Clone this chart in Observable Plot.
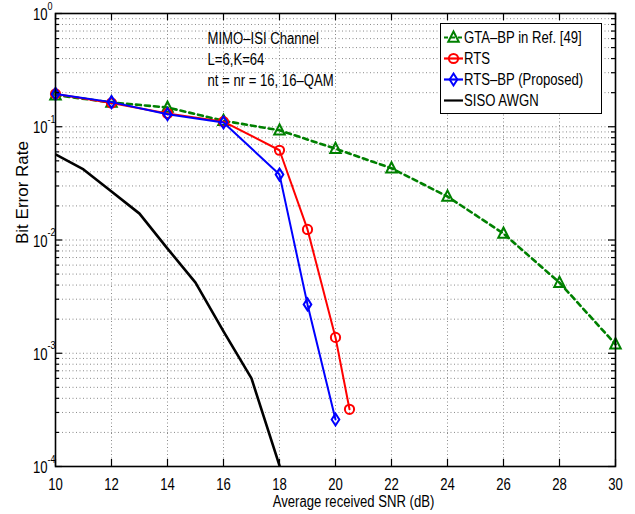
<!DOCTYPE html>
<html>
<head>
<meta charset="utf-8">
<script src="https://cdn.jsdelivr.net/npm/d3@7"></script>
<script src="https://cdn.jsdelivr.net/npm/@observablehq/plot@0.6"></script>
<style>
  body { margin: 0; background: #fff; }
  #wrap { position: relative; width: 635px; height: 514px; background: #fff; }
  #legend {
    position: absolute; left: 440px; top: 23px; width: 162px; height: 91px;
    box-sizing: border-box; border: 1.5px solid #000; background: #fff;
    font-family: "Liberation Sans", Arial, sans-serif;
    font-size: 16px; color: #000; padding-top: 3px;
  }
  .row { display: flex; align-items: center; height: 21px; white-space: nowrap; }
  .row svg { flex: none; margin-left: 2px; }
  .row span { display: inline-block; transform: scaleX(0.82); transform-origin: 0 50%; }
</style>
</head>
<body>
<div id="wrap"><div id="legend"></div></div>
<script>
// ---------------- data ----------------
const snrGTA   = [10, 12, 14, 16, 18, 20, 22, 24, 26, 28, 30];
const berGTA   = [0.19, 0.164, 0.148, 0.113, 0.093, 0.064, 0.043, 0.0242, 0.0114, 0.0042, 0.0012];
const snrRTS   = [10, 12, 14, 16, 18, 19, 20, 20.5];
const berRTS   = [0.195, 0.162, 0.131, 0.111, 0.062, 0.0124, 0.00138, 0.00032];
const snrRTSBP = [10, 12, 14, 16, 18, 19, 20];
const berRTSBP = [0.195, 0.165, 0.129, 0.109, 0.0378, 0.0027, 0.00026];
const snrSISO  = [10, 11, 12, 13, 14, 15, 16, 17, 18];
const berSISO  = [0.057, 0.042, 0.0268, 0.0171, 0.0084, 0.0042, 0.00156, 0.0006, 0.000102];

const seriesNames = ["GTA–BP in Ref. [49]", "RTS", "RTS–BP (Proposed)", "SISO AWGN"];
const xTicks = [10, 12, 14, 16, 18, 20, 22, 24, 26, 28, 30];
const yExponents = [0, -1, -2, -3, -4];
const annotationLines = ["MIMO–ISI Channel", "L=6,K=64", "nt = nr = 16, 16–QAM"];
const xLabel = "Average received SNR (dB)";
const yLabel = "Bit Error Rate";

// ---------------- styles ----------------
const GREEN = "#008000", RED = "#ff0000", BLUE = "#0000ff", BLACK = "#000000";
const FONT = '"Liberation Sans", Arial, sans-serif';
const SQUEEZE = 0.82;
const W = 635, H = 514, mL = 55, mR = 20, mT = 13, mB = 48;
const pw = W - mL - mR, ph = H - mT - mB;

const zip = (xs, ys) => xs.map((x, i) => ({x, y: ys[i]}));
const gta = zip(snrGTA, berGTA), rts = zip(snrRTS, berRTS), rtsbp = zip(snrRTSBP, berRTSBP), siso = zip(snrSISO, berSISO);

const yMajor = yExponents.map(e => 10 ** e);
const yMinor = [];
for (const e of yExponents) if (e < 0) for (let k = 2; k <= 9; k++) yMinor.push(k * 10 ** e);
const yGrid = [...yMajor.filter(v => v > 1e-4 && v < 1), ...yMinor];

// custom marker shapes (MATLAB-like)
const triSym = {draw(ctx, size) { const r = Math.sqrt(size / Math.PI);
  ctx.moveTo(0, -1.2 * r); ctx.lineTo(1.05 * r, 0.85 * r); ctx.lineTo(-1.05 * r, 0.85 * r); ctx.closePath(); }};
const diaSym = {draw(ctx, size) { const r = Math.sqrt(size / Math.PI);
  ctx.moveTo(0, -1.25 * r); ctx.lineTo(0.8 * r, 0); ctx.lineTo(0, 1.25 * r); ctx.lineTo(-0.8 * r, 0); ctx.closePath(); }};
const cirSym = {draw(ctx, size) { const r = Math.sqrt(size / Math.PI);
  ctx.moveTo(r, 0); ctx.arc(0, 0, r, 0, 2 * Math.PI); ctx.closePath(); }};

const gridStyle = {stroke: "#8a8a8a", strokeWidth: 1, strokeDasharray: "1,2.5"};

const chart = Plot.plot({
  width: W, height: H,
  marginLeft: mL, marginRight: mR, marginTop: mT, marginBottom: mB,
  x: {domain: [10, 30], axis: null},
  y: {type: "log", domain: [1e-4, 1], axis: null},
  style: {fontFamily: FONT, fontSize: "16px", background: "white", color: "black"},
  marks: [
    // grid
    Plot.ruleX(xTicks.filter(v => v > 10 && v < 30), {x: d => d, ...gridStyle}),
    Plot.ruleY(yGrid, {y: d => d, ...gridStyle}),
    // series
    Plot.line(gta, {x: "x", y: "y", stroke: GREEN, strokeWidth: 2.6, strokeDasharray: "5,4"}),
    Plot.dot(gta, {x: "x", y: "y", r: 5, symbol: triSym, stroke: GREEN, fill: "none", strokeWidth: 2}),
    Plot.line(rts, {x: "x", y: "y", stroke: RED, strokeWidth: 2}),
    Plot.dot(rts, {x: "x", y: "y", r: 4.6, symbol: cirSym, stroke: RED, fill: "none", strokeWidth: 2}),
    Plot.line(rtsbp, {x: "x", y: "y", stroke: BLUE, strokeWidth: 2}),
    Plot.dot(rtsbp, {x: "x", y: "y", r: 4.8, symbol: diaSym, stroke: BLUE, fill: "none", strokeWidth: 2}),
    Plot.line(siso, {x: "x", y: "y", stroke: BLACK, strokeWidth: 2.6, clip: "frame"}),
    // frame + inward ticks
    Plot.frame({stroke: "black", strokeWidth: 1.6}),
    Plot.tickY(yMajor, {y: d => d, insetRight: pw - 7, stroke: "black", strokeWidth: 1.2}),
    Plot.tickY(yMajor, {y: d => d, insetLeft: pw - 7, stroke: "black", strokeWidth: 1.2}),
    Plot.tickY(yMinor, {y: d => d, insetRight: pw - 4, stroke: "black", strokeWidth: 1.2}),
    Plot.tickY(yMinor, {y: d => d, insetLeft: pw - 4, stroke: "black", strokeWidth: 1.2}),
    Plot.tickX(xTicks, {x: d => d, insetTop: ph - 7, stroke: "black", strokeWidth: 1.2}),
    Plot.tickX(xTicks, {x: d => d, insetBottom: ph - 7, stroke: "black", strokeWidth: 1.2}),
    // x axis tick labels and title
    Plot.axisX({ticks: xTicks, tickSize: 0, tickPadding: 12.5, tickFormat: d => String(d), fontSize: 16, label: null}),
    Plot.text([xLabel], {text: d => d, frameAnchor: "bottom", lineAnchor: "middle", dx: 18, dy: 35, fontSize: 16}),
    // y axis labels: 10 with superscript exponent
    Plot.text(yExponents, {y: e => 10 ** e, text: () => "10", frameAnchor: "left", textAnchor: "end",
                           dx: -8, dy: 1.5, fontSize: 16}),
    Plot.text(yExponents, {y: e => 10 ** e, text: e => String(e), frameAnchor: "left", textAnchor: "start",
                           dx: -8, dy: -7.5, fontSize: 11}),
    Plot.text([yLabel], {text: d => d, frameAnchor: "left", rotate: -90, dx: -33, dy: 4, fontSize: 17}),
    // annotation
    Plot.text([annotationLines.join("\n")], {text: d => d, frameAnchor: "top-left", textAnchor: "start",
                         lineAnchor: "top", dx: 152, dy: 15.5, lineHeight: 1.32, fontSize: 16})
  ]
});
document.getElementById("wrap").prepend(chart);
chart.style.display = "block";

// MATLAB figure text is horizontally condensed: squeeze each horizontal text about its anchor
chart.querySelectorAll("text").forEach(t => {
  const tr = t.getAttribute("transform");
  if (tr === null || /rotate/.test(tr)) return;
  t.setAttribute("transform", tr + ` scale(${SQUEEZE},1)`);
});

// ---------------- legend ----------------
const legendSpecs = [
  {name: seriesNames[0], color: GREEN, dash: "4,3", sym: triSym, r: 5},
  {name: seriesNames[1], color: RED, dash: null, sym: cirSym, r: 4.6},
  {name: seriesNames[2], color: BLUE, dash: null, sym: diaSym, r: 4.8},
  {name: seriesNames[3], color: BLACK, dash: null, sym: null, r: 0}
];
const legend = d3.select("#legend");
for (const s of legendSpecs) {
  const row = legend.append("div").attr("class", "row");
  const svg = row.append("svg").attr("width", 21).attr("height", 21);
  svg.append("line").attr("x1", 1).attr("x2", 20).attr("y1", 10.5).attr("y2", 10.5)
     .attr("stroke", s.color).attr("stroke-width", 2.2).attr("stroke-dasharray", s.dash);
  if (s.sym) svg.append("path").attr("transform", "translate(10.5,10.5)")
     .attr("d", d3.symbol(s.sym, s.r * s.r * Math.PI)()).attr("fill", "none")
     .attr("stroke", s.color).attr("stroke-width", 2);
  row.append("span").text(s.name);
}
</script>
</body>
</html>
